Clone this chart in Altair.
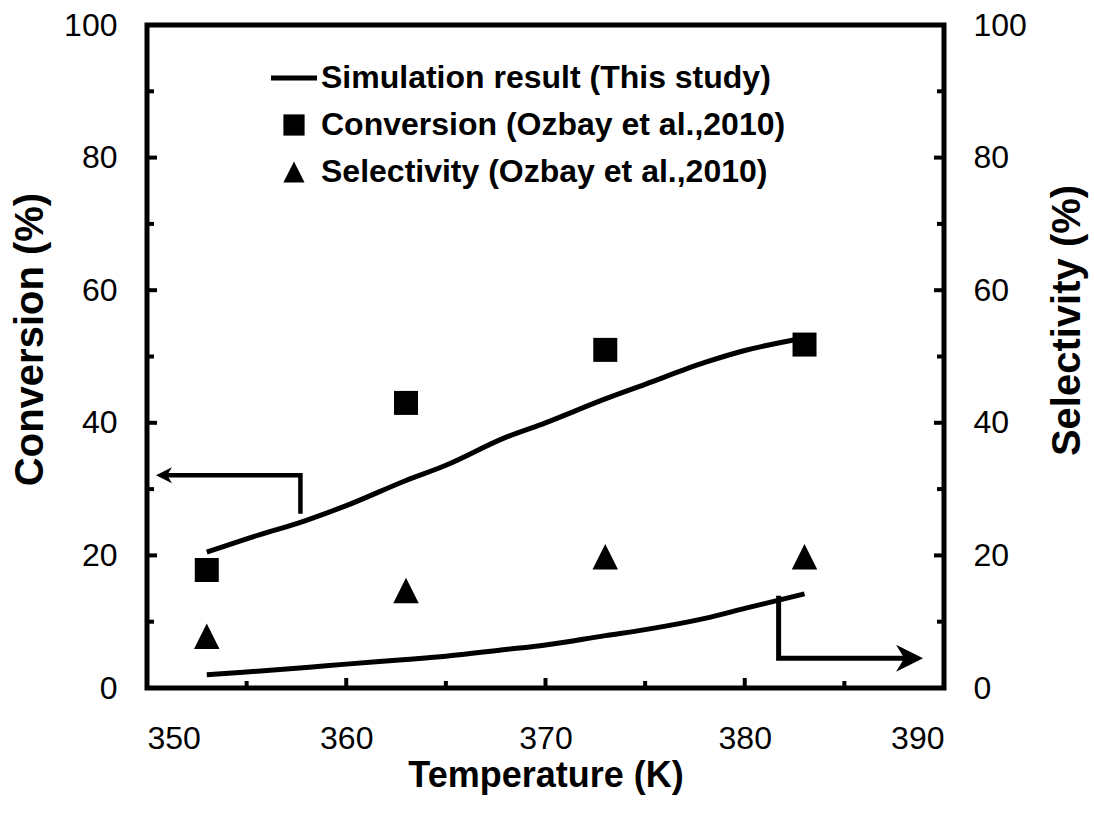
import altair as alt
import pandas as pd

# ---- data ----
temps_sim = [353, 355, 358, 360, 363, 365, 368, 370, 373, 375, 378, 380, 383]
conv_sim = [20.5, 22.5, 25.3, 27.5, 31.3, 33.6, 37.8, 40.0, 43.6, 45.8, 49.1, 50.9, 52.8]
sel_sim = [2.0, 2.4, 3.1, 3.6, 4.3, 4.8, 5.8, 6.5, 7.9, 8.8, 10.5, 12.0, 14.2]

temps_exp = [353, 363, 373, 383]
conv_exp = [17.8, 43.0, 51.0, 51.8]
sel_exp = [7.8, 14.7, 19.8, 19.8]

legend_labels = [
    "Simulation result (This study)",
    "Conversion (Ozbay et al.,2010)",
    "Selectivity (Ozbay et al.,2010)",
]

x_tick_values = [350, 360, 370, 380, 390]
y_tick_values = [0, 20, 40, 60, 80, 100]
x_major_inner = [360, 370, 380]
x_minor_inner = [355, 365, 375, 385]
y_major_inner = [20, 40, 60, 80]
y_minor_inner = [10, 30, 50, 70, 90]

# annotation arrows (data coordinates)
arrow_left_x = [357.7, 357.7, 350.9]
arrow_left_y = [26.3, 32.1, 32.1]
arrow_left_tip_x = [350.45]
arrow_left_tip_y = [32.1]
arrow_right_x = [381.7, 381.7, 388.2]
arrow_right_y = [13.9, 4.5, 4.5]
arrow_right_tip_x = [388.95]
arrow_right_tip_y = [4.5]

# ---- layout ----
W, H = 797, 663
FONT = "Liberation Sans"

line_path = "M-2.17,-0.24H2.17V0.24H-2.17Z"
square_path = "M-1,-1H1V1H-1Z"
tri_path = "M0,-1L1,1L-1,1Z"
arrow_path = "M0,0L-2,-1L-1.4,0L-2,1Z"

sim_df = pd.DataFrame({"T": temps_sim, "conv": conv_sim, "sel": sel_sim})
conv_df = pd.DataFrame({"T": temps_exp, "v": conv_exp, "series": legend_labels[1]})
sel_df = pd.DataFrame({"T": temps_exp, "v": sel_exp, "series": legend_labels[2]})
arrL = pd.DataFrame({"x": arrow_left_x, "y": arrow_left_y, "i": range(len(arrow_left_x))})
arrR = pd.DataFrame({"x": arrow_right_x, "y": arrow_right_y, "i": range(len(arrow_right_x))})
tipL = pd.DataFrame({"x": arrow_left_tip_x, "y": arrow_left_tip_y})
tipR = pd.DataFrame({"x": arrow_right_tip_x, "y": arrow_right_tip_y})

xscale = alt.Scale(domain=[350, 390], nice=False, zero=False)
yscale = alt.Scale(domain=[0, 100], nice=False)

x_axis = alt.Axis(
    values=x_tick_values, format="d", domain=False, ticks=False, grid=False,
    labelFont=FONT, labelFontSize=32, labelColor="black", labelPadding=35,
    title="Temperature (K)", titleFont=FONT, titleFontSize=36, titleFontWeight="bold",
    titleColor="black", titleY=87, titleBaseline="middle",
)
y_left_axis = alt.Axis(
    values=y_tick_values, format="d", domain=False, ticks=False, grid=False,
    labelFont=FONT, labelFontSize=32, labelColor="black", labelPadding=30,
    title="Conversion (%)", titleFont=FONT, titleFontSize=40, titleFontWeight="bold",
    titleColor="black", titleX=-117, titleY=314, titleAngle=270,
    titleBaseline="middle", titleAlign="center",
)
y_right_axis = alt.Axis(
    orient="right", values=y_tick_values, format="d", domain=False, ticks=False, grid=False,
    labelFont=FONT, labelFontSize=32, labelColor="black", labelPadding=29,
    title="Selectivity (%)", titleFont=FONT, titleFontSize=40, titleFontWeight="bold",
    titleColor="black", titleX=123, titleY=295, titleAngle=270,
    titleBaseline="middle", titleAlign="center",
)

legend = alt.Legend(
    title=None, orient="none", legendX=131, legendY=37, padding=0,
    symbolSize=450, symbolFillColor="black", symbolStrokeWidth=0, symbolOpacity=1,
    labelFont=FONT, labelFontSize=32, labelFontWeight="bold", labelColor="black",
    labelOffset=11, rowPadding=15, labelLimit=700,
)
shape_scale = alt.Scale(domain=legend_labels, range=[line_path, square_path, tri_path])

# ---- left (conversion) layer ----
conv_line = alt.Chart(sim_df).mark_line(color="black", strokeWidth=5, interpolate="monotone").encode(
    x=alt.X("T:Q", scale=xscale, axis=x_axis),
    y=alt.Y("conv:Q", scale=yscale, axis=y_left_axis),
)
conv_pts = alt.Chart(conv_df).mark_point(filled=True, color="black", opacity=1, size=576).encode(
    x=alt.X("T:Q", scale=xscale),
    y=alt.Y("v:Q", scale=yscale),
    shape=alt.Shape("series:N", scale=shape_scale, legend=legend),
)
arrow_l = alt.Chart(arrL).mark_line(color="black", strokeWidth=4.5, strokeJoin="miter").encode(
    x=alt.X("x:Q", scale=xscale), y=alt.Y("y:Q", scale=yscale), order="i:Q"
)
tip_l = alt.Chart(tipL).mark_point(shape=arrow_path, filled=True, color="black", opacity=1,
                                   size=256, angle=180).encode(
    x=alt.X("x:Q", scale=xscale), y=alt.Y("y:Q", scale=yscale)
)

# inward ticks
xt_major = alt.Chart(pd.DataFrame({"t": x_major_inner})).mark_rule(color="black", strokeWidth=4).encode(
    x=alt.X("t:Q", scale=xscale), y=alt.value(H), y2=alt.value(H - 10)
)
xt_minor = alt.Chart(pd.DataFrame({"t": x_minor_inner})).mark_rule(color="black", strokeWidth=4).encode(
    x=alt.X("t:Q", scale=xscale), y=alt.value(H), y2=alt.value(H - 7)
)
yl_major = alt.Chart(pd.DataFrame({"t": y_major_inner})).mark_rule(color="black", strokeWidth=4).encode(
    y=alt.Y("t:Q", scale=yscale), x=alt.value(0), x2=alt.value(10)
)
yl_minor = alt.Chart(pd.DataFrame({"t": y_minor_inner})).mark_rule(color="black", strokeWidth=4).encode(
    y=alt.Y("t:Q", scale=yscale), x=alt.value(0), x2=alt.value(7)
)
yr_major = alt.Chart(pd.DataFrame({"t": y_major_inner})).mark_rule(color="black", strokeWidth=4).encode(
    y=alt.Y("t:Q", scale=yscale), x=alt.value(W), x2=alt.value(W - 10)
)
yr_minor = alt.Chart(pd.DataFrame({"t": y_minor_inner})).mark_rule(color="black", strokeWidth=4).encode(
    y=alt.Y("t:Q", scale=yscale), x=alt.value(W), x2=alt.value(W - 7)
)

left = alt.layer(conv_line, conv_pts, arrow_l, tip_l, xt_major, xt_minor,
                 yl_major, yl_minor, yr_major, yr_minor)

# ---- right (selectivity) layer ----
sel_line = alt.Chart(sim_df).mark_line(color="black", strokeWidth=5, interpolate="monotone").encode(
    x=alt.X("T:Q", scale=xscale),
    y=alt.Y("sel:Q", scale=yscale, axis=y_right_axis),
)
sel_pts = alt.Chart(sel_df).mark_point(filled=True, color="black", opacity=1, size=650).encode(
    x=alt.X("T:Q", scale=xscale),
    y=alt.Y("v:Q", scale=yscale),
    shape=alt.Shape("series:N", scale=shape_scale, legend=legend),
)
arrow_r = alt.Chart(arrR).mark_line(color="black", strokeWidth=5, strokeJoin="miter").encode(
    x=alt.X("x:Q", scale=xscale), y=alt.Y("y:Q", scale=yscale), order="i:Q"
)
tip_r = alt.Chart(tipR).mark_point(shape=arrow_path, filled=True, color="black", opacity=1,
                                   size=729).encode(
    x=alt.X("x:Q", scale=xscale), y=alt.Y("y:Q", scale=yscale)
)
right = alt.layer(sel_line, sel_pts, arrow_r, tip_r)

chart = (
    alt.layer(left, right)
    .resolve_scale(y="independent")
    .properties(
        width=W, height=H,
        autosize=alt.AutoSizeParams(type="none"),
        padding={"left": 147, "top": 25, "right": 150, "bottom": 128},
        background="white",
    )
    .configure_view(stroke="black", strokeWidth=5)
)

chart.save("out.html", embed_options={"renderer": "svg", "actions": False})
